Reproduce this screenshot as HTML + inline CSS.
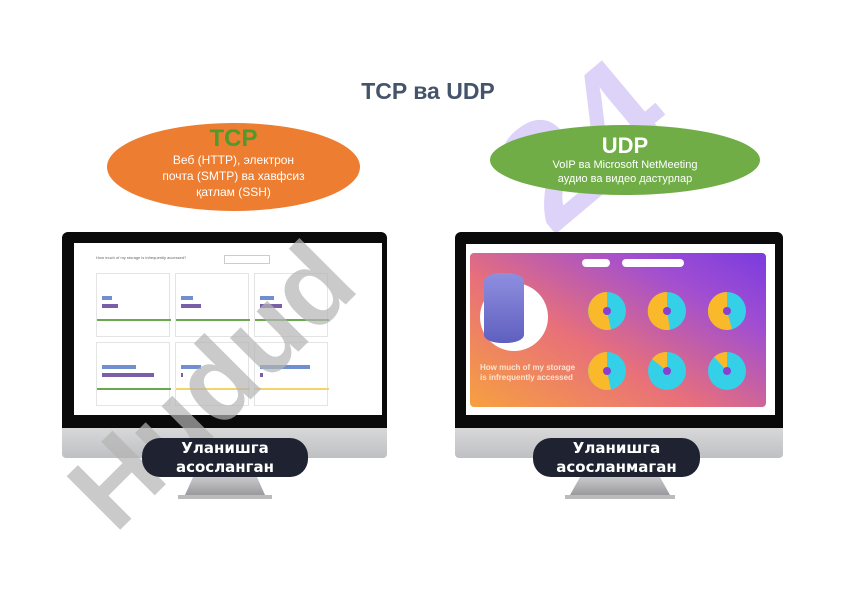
<!DOCTYPE html>
<html style="width:842px;height:596px;overflow:hidden"><head><meta charset="utf-8"><style>
*{margin:0;padding:0;box-sizing:border-box}
body{width:842px;height:596px;background:#fff;position:relative;overflow:hidden;font-family:"Liberation Sans","DejaVu Sans",sans-serif}
.a{position:absolute}
.title{left:0;width:856px;top:78px;text-align:center;font-size:23px;font-weight:bold;color:#44546a}
.ell{border-radius:50%;color:#fff;text-align:center}
.bez{background:#0a0a0a;border-radius:6px 6px 0 0}
.chin{background:linear-gradient(#d8d8da,#bfc0c3);border-radius:0 0 4px 4px}
.pill{background:#1f2230;border-radius:18px;color:#fff;font-weight:bold;font-size:15px;text-align:center;line-height:19px;padding-top:1px;font-family:"DejaVu Sans",sans-serif}
.neck{background:linear-gradient(#c9c9cc,#9a9a9e)}
.card{position:absolute;background:#fff;border:1px solid #e4e4e4;width:74px;height:64px}
.bar{position:absolute;height:4px}
</style></head><body>
<div class="a" style="left:470px;top:140px;font-size:150px;font-weight:bold;color:#ddd2f8;transform:rotate(-40deg);transform-origin:left top;white-space:nowrap;line-height:1">24</div>

<div class="a title">TCP ва UDP</div>

<div class="a ell" style="left:107px;top:123px;width:253px;height:88px;background:#ed7d31">
 <div style="font-size:24px;font-weight:bold;color:#4f9a2c;margin-top:3px;line-height:26px">TCP</div>
 <div style="font-size:12px;line-height:16px">Веб (HTTP), электрон<br>почта (SMTP) ва хавфсиз<br>қатлам (SSH)</div>
</div>
<div class="a ell" style="left:490px;top:125px;width:270px;height:70px;background:#70ad47">
 <div style="font-size:22px;font-weight:bold;margin-top:9px;line-height:24px">UDP</div>
 <div style="font-size:11px;line-height:14px">VoIP ва Microsoft NetMeeting<br>аудио ва видео дастурлар</div>
</div>

<div class="a bez" style="left:62px;top:232px;width:325px;height:196px"></div>
<div class="a chin" style="left:62px;top:428px;width:325px;height:30px"></div>
<div class="a neck" style="left:185px;top:477px;width:80px;height:18px;clip-path:polygon(10% 0,90% 0,100% 100%,0 100%)"></div>
<div class="a" style="left:178px;top:495px;width:94px;height:4px;background:#bbb"></div>
<div class="a" style="left:74px;top:243px;width:308px;height:172px;background:#fff">
 <div class="a" style="left:22px;top:12px;font-size:4px;color:#666">How much of my storage is infrequently accessed?</div>
 <div class="a" style="left:150px;top:12px;width:46px;height:9px;border:1px solid #ccc"></div>
 <div class="card" style="left:22px;top:30px"><div class="bar" style="left:5px;top:22px;width:10px;background:#6f8fd0"></div><div class="bar" style="left:5px;top:30px;width:16px;background:#7b5ea8"></div><div class="bar" style="left:0;top:45px;width:74px;height:2px;background:#6aa84f"></div></div>
 <div class="card" style="left:101px;top:30px"><div class="bar" style="left:5px;top:22px;width:12px;background:#6f8fd0"></div><div class="bar" style="left:5px;top:30px;width:20px;background:#7b5ea8"></div><div class="bar" style="left:0;top:45px;width:74px;height:2px;background:#6aa84f"></div></div>
 <div class="card" style="left:180px;top:30px"><div class="bar" style="left:5px;top:22px;width:14px;background:#6f8fd0"></div><div class="bar" style="left:5px;top:30px;width:22px;background:#7b5ea8"></div><div class="bar" style="left:0;top:45px;width:74px;height:2px;background:#6aa84f"></div></div>
 <div class="card" style="left:22px;top:99px"><div class="bar" style="left:5px;top:22px;width:34px;background:#6f8fd0"></div><div class="bar" style="left:5px;top:30px;width:52px;background:#7b5ea8"></div><div class="bar" style="left:0;top:45px;width:74px;height:2px;background:#6aa84f"></div></div>
 <div class="card" style="left:101px;top:99px"><div class="bar" style="left:5px;top:22px;width:20px;background:#6f8fd0"></div><div class="bar" style="left:5px;top:30px;width:2px;background:#7b5ea8"></div><div class="bar" style="left:0;top:45px;width:74px;height:2px;background:#f2d46b"></div></div>
 <div class="card" style="left:180px;top:99px"><div class="bar" style="left:5px;top:22px;width:50px;background:#6f8fd0"></div><div class="bar" style="left:5px;top:30px;width:3px;background:#7b5ea8"></div><div class="bar" style="left:0;top:45px;width:74px;height:2px;background:#f2d46b"></div></div>
</div>

<div class="a bez" style="left:455px;top:232px;width:328px;height:196px"></div>
<div class="a chin" style="left:455px;top:428px;width:328px;height:30px"></div>
<div class="a neck" style="left:570px;top:477px;width:100px;height:18px;clip-path:polygon(10% 0,90% 0,100% 100%,0 100%)"></div>
<div class="a" style="left:565px;top:495px;width:110px;height:4px;background:#bbb"></div>
<div class="a" style="left:466px;top:244px;width:309px;height:171px;background:#fff"></div>
<div class="a" style="left:470px;top:253px;width:296px;height:154px;border-radius:4px;background:linear-gradient(30deg,#f7a040 0%,#e8707a 40%,#a24fd0 75%,#7a3be0 100%)">
 <div class="a" style="left:10px;top:30px;width:68px;height:68px;border-radius:50%;background:#fff"></div>
 <div class="a" style="left:14px;top:20px;width:40px;height:70px;background:linear-gradient(#8f8fe0,#5f5fc0);border-radius:18px/8px"></div>
 <div class="a" style="left:10px;top:110px;font-size:8px;font-weight:bold;color:#fde3d0;line-height:10px">How much of my storage<br>is infrequently accessed</div>
 <div class="a" style="left:112px;top:6px;width:28px;height:8px;border-radius:4px;background:#fff"></div>
 <div class="a" style="left:152px;top:6px;width:62px;height:8px;border-radius:4px;background:#fff"></div>
 <svg class="a" style="left:110px;top:18px" width="180" height="130">
  <circle cx="27" cy="40" r="19" fill="#34d0e8"/><path d="M27 40 L27 21 A19 19 0 1 0 31 58.6 Z" fill="#f9b92b"/><circle cx="27" cy="40" r="4" fill="#8a3fd0"/>
  <circle cx="87" cy="40" r="19" fill="#34d0e8"/><path d="M87 40 L87 21 A19 19 0 1 0 90 58.7 Z" fill="#f9b92b"/><circle cx="87" cy="40" r="4" fill="#8a3fd0"/>
  <circle cx="147" cy="40" r="19" fill="#34d0e8"/><path d="M147 40 L147 21 A19 19 0 1 0 152 58.3 Z" fill="#f9b92b"/><circle cx="147" cy="40" r="4" fill="#8a3fd0"/>
  <circle cx="27" cy="100" r="19" fill="#34d0e8"/><path d="M27 100 L27 81 A19 19 0 1 0 31 118.6 Z" fill="#f9b92b"/><circle cx="27" cy="100" r="4" fill="#8a3fd0"/>
  <circle cx="87" cy="100" r="19" fill="#34d0e8"/><path d="M87 100 L87 81 A19 19 0 0 0 72 88 Z" fill="#f9b92b"/><circle cx="87" cy="100" r="4" fill="#8a3fd0"/>
  <circle cx="147" cy="100" r="19" fill="#34d0e8"/><path d="M147 100 L147 81 A19 19 0 0 0 134 86 Z" fill="#f9b92b"/><circle cx="147" cy="100" r="4" fill="#8a3fd0"/>
 </svg>
</div>

<div class="a" style="left:50px;top:470px;font-size:110px;font-weight:bold;color:#b4b4b4;opacity:.7;transform:rotate(-45deg);transform-origin:left top;white-space:nowrap;line-height:1">Hudud</div>

<div class="a pill" style="left:142px;top:438px;width:166px;height:39px">Уланишга<br>асосланган</div>
<div class="a pill" style="left:533px;top:438px;width:167px;height:39px">Уланишга<br>асосланмаган</div>
</body></html>
